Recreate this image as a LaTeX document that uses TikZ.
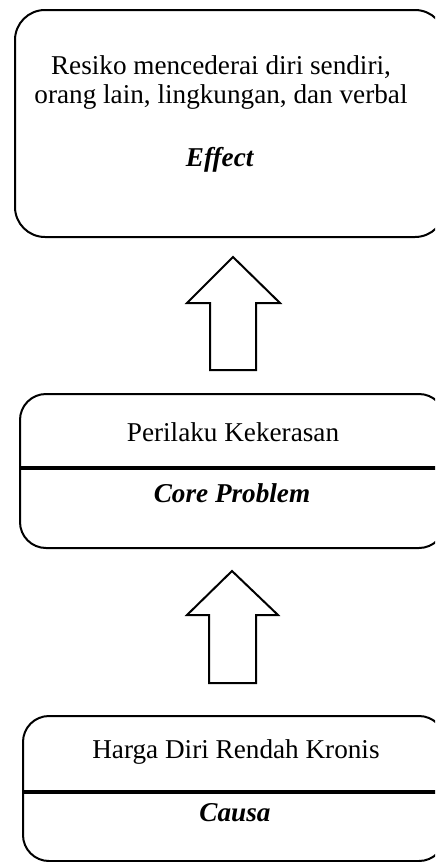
\documentclass[tikz,border=0pt]{standalone}
\usepackage{fontspec}
\setmainfont{Liberation Serif}
\usetikzlibrary{positioning}
\tikzstyle{box} = [draw, line width=1pt, rounded corners=13pt, inner sep=0pt]
\tikzstyle{boxtext} = [align=center, inner sep=0pt, font=\fontsize{13.6}{14.5}\selectfont]
\tikzstyle{divider} = [line width=2.2pt]
\tikzstyle{bigarrow} = [draw, line width=1pt, fill=white, line join=miter]

\begin{document}
\begin{tikzpicture}[x=0.5pt, y=-0.5pt]
\useasboundingbox (0,0) rectangle (435,862);
\clip (0,0) rectangle (435,862);

% Boxes
\node (E) [box, rounded corners=15pt, minimum width=215pt, minimum height=113.5pt] at (230,123.5) {};
\node (C) [box, minimum width=212.5pt, minimum height=77pt] at (232.5,471) {};
\node (K) [box, minimum width=211pt, minimum height=72.5pt] at (234,788.5) {};

% Texts
\node (E1) [boxtext] at (221,82) {Resiko mencederai diri sendiri,\\orang lain, lingkungan, dan verbal};
\node (E2) [boxtext] at (220,160) {\textbf{\textit{Effect}}};
\node (C1) [boxtext] at (233,432) {Perilaku Kekerasan};
\node (C2) [boxtext] at (232,493) {\textbf{\textit{Core Problem}}};
\node (K1) [boxtext] at (236,752) {Harga Diri Rendah Kronis};
\node (K2) [boxtext] at (235,813) {\textbf{\textit{Causa}}};

% Dividers
\coordinate (dC) at (0,468);
\coordinate (dK) at (0,792);
\draw [divider] (C.west |- dC) -- (C.east |- dC);
\draw [divider] (K.west |- dK) -- (K.east |- dK);

% Block arrows
\coordinate (A1) at (233,257);
\coordinate (A2) at (232,571);
\draw [bigarrow] (A1) -- ++(47,46) -- ++(-24,0) -- ++(0,67) -- ++(-46,0) -- ++(0,-67) -- ++(-23,0) -- cycle;
\draw [bigarrow] (A2) -- ++(46,44) -- ++(-22,0) -- ++(0,68) -- ++(-47,0) -- ++(0,-68) -- ++(-22,0) -- cycle;

\end{tikzpicture}
\end{document}
